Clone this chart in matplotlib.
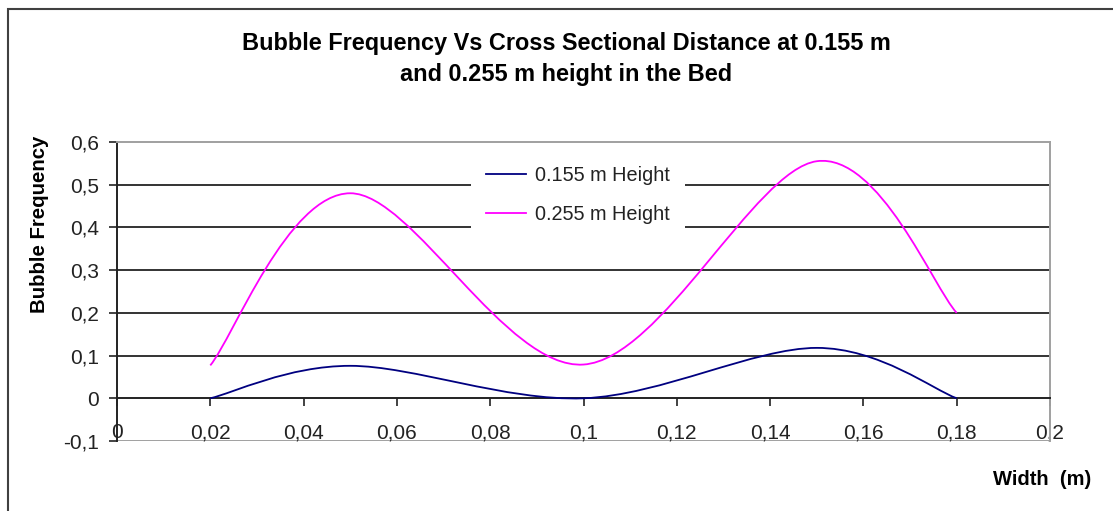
import numpy as np
import matplotlib
matplotlib.use("Agg")
import matplotlib.pyplot as plt
from matplotlib.path import Path
from matplotlib.patches import PathPatch, Rectangle
from matplotlib.lines import Line2D
from matplotlib.ticker import FuncFormatter

plt.rcParams['font.family'] = ['Liberation Sans', 'DejaVu Sans']

# measured positions across the bed (m) and bubble frequency
width_m = [0.02, 0.05, 0.10, 0.15, 0.18]
freq_155 = [0.0, 0.076, 0.0, 0.118, 0.0]
freq_255 = [0.077, 0.480, 0.079, 0.555, 0.20]

series_labels = ["0.155 m Height", "0.255 m Height"]
series_colors = ["#000080", "#FF00FF"]

title = "Bubble Frequency Vs Cross Sectional Distance at 0.155 m\nand 0.255 m height in the Bed"
xlabel = "Width  (m)"
ylabel = "Bubble Frequency"

x_ticks = np.arange(0, 0.2001, 0.02)
y_ticks = np.arange(-0.1, 0.6001, 0.1)


def smooth_path(xs, ys):
    # Excel style smoothed line: cubic bezier, control points from neighbours
    pts = np.column_stack([xs, ys])
    n = len(pts)
    verts = [pts[0]]
    codes = [Path.MOVETO]
    for i in range(n - 1):
        p_prev = pts[i - 1] if i > 0 else pts[i]
        p_next2 = pts[i + 2] if i + 2 < n else pts[i + 1]
        c1 = pts[i] + (pts[i + 1] - p_prev) / 6.0
        c2 = pts[i + 1] - (p_next2 - pts[i]) / 6.0
        verts += [c1, c2, pts[i + 1]]
        codes += [Path.CURVE4] * 3
    return Path(verts, codes)


fig = plt.figure(figsize=(11.13, 5.11), dpi=100)
fig.patch.set_facecolor("white")

# outer chart border
fig.patches.append(Rectangle((8 / 1113, -0.5), 2.0, 1.5 - 9 / 511,
                             transform=fig.transFigure, fill=False,
                             edgecolor="#404040", linewidth=1.5))

ax = fig.add_axes([117 / 1113, 1 - 441 / 511, 933 / 1113, 299 / 511])
ax.set_xlim(0, 0.2)
ax.set_ylim(-0.1, 0.6)

for yv in [0.1, 0.2, 0.3, 0.4, 0.5]:
    ax.axhline(yv, color="#333333", linewidth=1.4, zorder=1)
ax.axhline(-0.1, color="#a0a0a0", linewidth=1.4, zorder=1)

for ys, c in zip([freq_155, freq_255], series_colors):
    ax.add_patch(PathPatch(smooth_path(width_m, ys), fill=False,
                           edgecolor=c, linewidth=1.3, zorder=3))

ax.spines['top'].set_color("#a0a0a0")
ax.spines['right'].set_color("#a0a0a0")
ax.spines['top'].set_linewidth(1.4)
ax.spines['right'].set_linewidth(1.4)
ax.spines['left'].set_color("#222222")
ax.spines['left'].set_linewidth(1.4)
ax.spines['bottom'].set_position(('data', 0))
ax.spines['bottom'].set_color("#222222")
ax.spines['bottom'].set_linewidth(1.4)

comma = FuncFormatter(lambda v, p: ("%g" % round(v, 3)).replace(".", ","))
ax.set_xticks(x_ticks)
ax.set_yticks(y_ticks)
ax.xaxis.set_major_formatter(comma)
ax.yaxis.set_major_formatter(comma)
ax.tick_params(axis='both', direction='out', length=6, width=1.2,
               color="#222222", labelsize=15, labelcolor="#222222")
ax.tick_params(axis='x', pad=12)
ax.tick_params(axis='y', pad=7)

handles = [Line2D([], [], color=c, linewidth=1.3) for c in series_colors]
leg = ax.legend(handles, series_labels, loc='center',
                bbox_to_anchor=(578 / 1113, 1 - 195 / 511),
                bbox_transform=fig.transFigure, fontsize=14.3,
                frameon=True, facecolor="white", edgecolor="none",
                framealpha=1, handlelength=2.0, handletextpad=0.45,
                labelspacing=1.0, borderpad=0.75, borderaxespad=0)
leg.set_zorder(5)
for t in leg.get_texts():
    t.set_color("#222222")

fig.text(566 / 1113, 1 - 59 / 511, title, ha='center', va='center',
         fontsize=16.9, fontweight='bold', linespacing=1.45)
fig.text(40 / 1113, 1 - 224 / 511, ylabel, rotation=90, ha='center',
         va='center', fontsize=14.7, fontweight='bold')
fig.text(1091 / 1113, 1 - 479 / 511, xlabel, ha='right', va='center',
         fontsize=14.5, fontweight='bold')

fig.savefig("out.png", dpi=100, facecolor="white")
